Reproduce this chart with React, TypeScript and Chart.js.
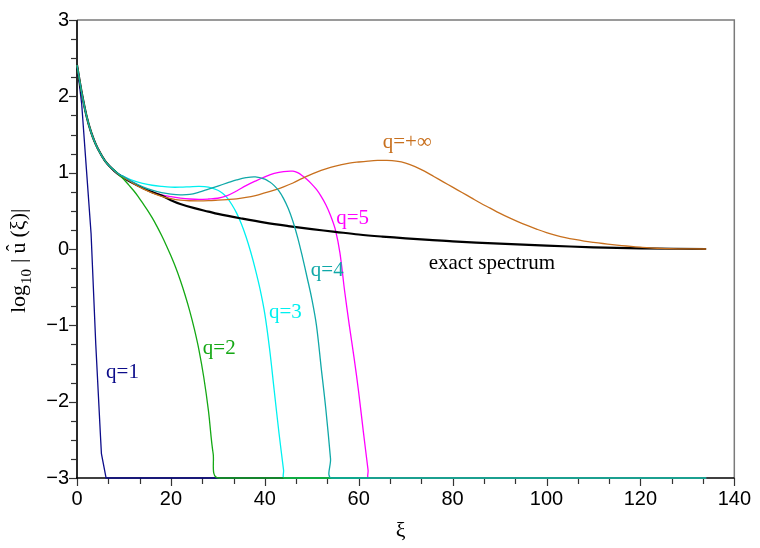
import React, { useEffect, useRef } from 'react';
import { Chart, registerables } from 'chart.js';

Chart.register(...registerables);

// ---------- data ----------
const exactXi = [0, 1, 2, 3, 4, 5, 6, 7, 8, 9, 10, 12, 14, 16, 18, 20, 22, 25, 28, 30, 35, 40, 45, 50, 55, 60, 65, 70, 75, 80, 90, 100, 110, 120, 134];
const exactLog = [2.41, 2.05, 1.75, 1.53, 1.37, 1.25, 1.15, 1.08, 1.02, 0.97, 0.93, 0.86, 0.8, 0.745, 0.7, 0.64, 0.59, 0.535, 0.49, 0.46, 0.4, 0.345, 0.3, 0.26, 0.225, 0.19, 0.163, 0.14, 0.12, 0.1, 0.07, 0.045, 0.022, 0.008, 0.0];

const q1Xi = [0, 1, 2, 3, 4, 5, 5.2, 6.2, 134];
const q1Log = [2.41, 1.9, 1.05, 0.2, -1.25, -2.45, -2.68, -3, -3];

const q2Xi = [0, 1, 2, 3, 4, 5, 6, 7, 8, 9, 10, 11, 12, 13, 14, 15, 16, 17, 18, 19, 20, 21, 22, 23, 24, 25, 26, 27, 28, 29, 30.2, 134];
const q2Log = [2.41, 2.05, 1.75, 1.53, 1.37, 1.25, 1.15, 1.08, 1.03, 0.97, 0.91, 0.84, 0.77, 0.69, 0.6, 0.51, 0.41, 0.3, 0.18, 0.05, -0.09, -0.24, -0.41, -0.6, -0.81, -1.05, -1.33, -1.68, -2.12, -2.68, -3, -3];

const q3Xi = [0, 1, 2, 3, 4, 5, 6, 7, 8, 9, 10, 12, 14, 16, 18, 20, 22, 24, 26, 28, 30, 31, 32, 33, 34, 35, 36, 37, 38, 39, 40, 41, 42, 43, 44, 44.2, 134];
const q3Log = [2.41, 2.05, 1.75, 1.53, 1.37, 1.25, 1.15, 1.08, 1.03, 0.98, 0.95, 0.895, 0.86, 0.835, 0.82, 0.81, 0.81, 0.815, 0.82, 0.81, 0.77, 0.73, 0.67, 0.58, 0.47, 0.33, 0.16, -0.04, -0.27, -0.53, -0.85, -1.3, -1.85, -2.4, -2.9, -3, -3];

const q4Xi = [0, 1, 2, 3, 4, 5, 6, 7, 8, 9, 10, 12, 14, 16, 18, 20, 22, 24, 26, 28, 30, 32, 34, 36, 38, 40, 41, 42, 43, 44, 45, 46, 47, 48, 49, 50, 51, 52, 53, 54, 54.3, 134];
const q4Log = [2.41, 2.05, 1.75, 1.53, 1.37, 1.25, 1.15, 1.08, 1.025, 0.975, 0.945, 0.875, 0.815, 0.77, 0.74, 0.72, 0.71, 0.715, 0.745, 0.785, 0.825, 0.865, 0.905, 0.935, 0.945, 0.915, 0.88, 0.83, 0.76, 0.66, 0.53, 0.36, 0.15, -0.1, -0.37, -0.65, -1.0, -1.55, -2.1, -2.75, -3, -3];

const q5Xi = [0, 1, 2, 3, 4, 5, 6, 7, 8, 9, 10, 12, 14, 16, 18, 20, 22, 24, 26, 28, 30, 32, 34, 36, 38, 40, 42, 44, 46, 47, 48, 49, 50, 51, 52, 53, 54, 55, 56, 57, 58, 59, 60, 61, 62, 62.2, 134];
const q5Log = [2.41, 2.05, 1.75, 1.53, 1.37, 1.25, 1.15, 1.08, 1.02, 0.975, 0.94, 0.87, 0.8, 0.75, 0.71, 0.685, 0.667, 0.655, 0.65, 0.655, 0.665, 0.7, 0.76, 0.83, 0.89, 0.945, 0.99, 1.015, 1.02, 1.0, 0.96, 0.91, 0.85, 0.78, 0.69, 0.58, 0.44, 0.26, -0.05, -0.55, -1.0, -1.42, -1.88, -2.4, -2.9, -3, -3];

const qInfXi = [0, 1, 2, 3, 4, 5, 6, 7, 8, 9, 10, 12, 14, 16, 18, 20, 22, 24, 26, 28, 30, 32, 34, 36, 38, 40, 42, 44, 46, 48, 50, 52, 54, 56, 58, 60, 62, 64, 66, 68, 70, 72, 74, 76, 78, 80, 82, 84, 86, 88, 90, 92, 94, 96, 98, 100, 102, 104, 106, 108, 110, 112, 114, 116, 118, 120, 122, 124, 126, 128, 134];
const qInfLog = [2.41, 2.05, 1.75, 1.53, 1.37, 1.25, 1.15, 1.08, 1.02, 0.97, 0.935, 0.86, 0.79, 0.735, 0.69, 0.66, 0.64, 0.632, 0.63, 0.633, 0.64, 0.648, 0.658, 0.675, 0.7, 0.735, 0.772, 0.815, 0.865, 0.925, 0.98, 1.03, 1.07, 1.1, 1.125, 1.14, 1.152, 1.16, 1.16, 1.15, 1.125, 1.08, 1.02, 0.95, 0.88, 0.81, 0.74, 0.67, 0.6, 0.535, 0.47, 0.41, 0.355, 0.305, 0.258, 0.215, 0.18, 0.15, 0.125, 0.104, 0.087, 0.072, 0.058, 0.045, 0.034, 0.024, 0.015, 0.009, 0.004, 0.002, 0.0];

const xTickValues = [0, 20, 40, 60, 80, 100, 120, 140];
const yTickValues = [-3, -2, -1, 0, 1, 2, 3];

const seriesColors = {
  q1: '#0c0c8a',
  q2: '#14a814',
  q3: '#00f0f0',
  q4: '#10a8a8',
  q5: '#ff00ff',
  qInf: '#c8701e',
  exact: '#000000',
};

const curveLabels = [
  { text: 'q=1', xi: 6.2, y: -1.69, color: seriesColors.q1 },
  { text: 'q=2', xi: 26.8, y: -1.38, color: seriesColors.q2 },
  { text: 'q=3', xi: 40.9, y: -0.91, color: seriesColors.q3 },
  { text: 'q=4', xi: 49.8, y: -0.35, color: seriesColors.q4 },
  { text: 'q=5', xi: 55.2, y: 0.33, color: seriesColors.q5 },
  { text: 'q=+\u221E', xi: 65.1, y: 1.32, color: seriesColors.qInf },
  { text: 'exact spectrum', xi: 74.9, y: -0.26, color: '#000000' },
];

const toPoints = (xs: number[], ys: number[]) => xs.map((x, i) => ({ x, y: ys[i] }));

const SERIF = '"Liberation Serif", "DejaVu Serif", serif';
const SANS = '"Liberation Sans", Arial, sans-serif';

const framePlugin = {
  id: 'framePlugin',
  beforeDatasetsDraw(chart: any) {
    const { ctx, chartArea } = chart;
    const { left, right, top, bottom } = chartArea;
    const xs = chart.scales.x;
    const ys = chart.scales.y;
    ctx.save();
    ctx.strokeStyle = '#7a7a7a';
    ctx.lineWidth = 1.5;
    ctx.beginPath();
    ctx.moveTo(left, top);
    ctx.lineTo(right, top);
    ctx.lineTo(right, bottom);
    ctx.stroke();
    ctx.strokeStyle = '#333';
    ctx.lineWidth = 1.2;
    const xMinor = 20 / 3;
    for (let i = 0; i <= 21; i++) {
      const v = i * xMinor;
      const px = Math.round(xs.getPixelForValue(v)) + 0.5;
      const len = i % 3 === 0 ? 8 : 6;
      ctx.beginPath();
      ctx.moveTo(px, bottom);
      ctx.lineTo(px, bottom + len);
      ctx.stroke();
    }
    for (let i = 0; i <= 24; i++) {
      const v = -3 + i * 0.25;
      const py = Math.round(ys.getPixelForValue(v)) + 0.5;
      const len = i % 4 === 0 ? 8 : 6;
      ctx.beginPath();
      ctx.moveTo(left, py);
      ctx.lineTo(left - len, py);
      ctx.stroke();
    }
    ctx.strokeStyle = '#2a2a2a';
    ctx.lineWidth = 2;
    ctx.beginPath();
    ctx.moveTo(left, top);
    ctx.lineTo(left, bottom);
    ctx.stroke();
    ctx.strokeStyle = '#000';
    ctx.lineWidth = 1.6;
    ctx.beginPath();
    ctx.moveTo(left - 1, bottom);
    ctx.lineTo(right, bottom);
    ctx.stroke();
    ctx.restore();
  },
  afterDraw(chart: any) {
    const { ctx, chartArea } = chart;
    const xs = chart.scales.x;
    const ys = chart.scales.y;
    ctx.save();
    ctx.textBaseline = 'alphabetic';
    ctx.textAlign = 'left';
    ctx.font = `21px ${SERIF}`;
    for (const l of curveLabels) {
      ctx.fillStyle = l.color;
      ctx.fillText(l.text, xs.getPixelForValue(l.xi), ys.getPixelForValue(l.y));
    }
    ctx.fillStyle = '#000';
    ctx.font = `22px ${SERIF}`;
    ctx.textAlign = 'center';
    ctx.fillText('\u03BE', (chartArea.left + chartArea.right) / 2 - 5, 537);
    // y title (rotated)
    ctx.translate(25, 313);
    ctx.rotate(-Math.PI / 2);
    ctx.textAlign = 'left';
    let cx = 0;
    ctx.font = `22px ${SERIF}`;
    ctx.fillText('log', cx, 0);
    cx += ctx.measureText('log').width + 1;
    ctx.font = `15px ${SERIF}`;
    ctx.fillText('10', cx, 6);
    cx += ctx.measureText('10').width + 6;
    ctx.font = `22px ${SERIF}`;
    ctx.fillText('|', cx, 0);
    cx += ctx.measureText('|').width + 5;
    const uw = ctx.measureText('u').width;
    ctx.fillText('u', cx, 0);
    ctx.font = `20px ${SERIF}`;
    const hw = ctx.measureText('\u02C6').width;
    ctx.fillText('\u02C6', cx + (uw - hw) / 2, -4);
    ctx.font = `22px ${SERIF}`;
    cx += uw + 5;
    ctx.fillText('(\u03BE)|', cx, 0);
    ctx.restore();
  },
};

export default function App() {
  const canvasRef = useRef<HTMLCanvasElement | null>(null);

  useEffect(() => {
    const canvas = canvasRef.current;
    if (!canvas) return;
    const mk = (label: string, xs: number[], ys: number[], color: string, width: number, order: number, tension: number) => ({
      label,
      data: toPoints(xs, ys),
      borderColor: color,
      backgroundColor: color,
      borderWidth: width,
      pointRadius: 0,
      fill: false,
      order,
      tension,
      clip: 4,
    });
    const chart = new Chart(canvas, {
      type: 'line',
      data: {
        datasets: [
          mk('q=4', q4Xi, q4Log, seriesColors.q4, 1.3, 1, 0.35),
          mk('q=2', q2Xi, q2Log, seriesColors.q2, 1.3, 2, 0.35),
          mk('q=+inf', qInfXi, qInfLog, seriesColors.qInf, 1.3, 3, 0.35),
          mk('exact', exactXi, exactLog, seriesColors.exact, 2.2, 4, 0.35),
          mk('q=5', q5Xi, q5Log, seriesColors.q5, 1.3, 5, 0.35),
          mk('q=3', q3Xi, q3Log, seriesColors.q3, 1.3, 6, 0.35),
          mk('q=1', q1Xi, q1Log, seriesColors.q1, 1.3, 7, 0),
        ] as any,
      },
      options: {
        animation: false,
        responsive: false,
        maintainAspectRatio: false,
        devicePixelRatio: 1,
        layout: { padding: { left: 0, right: 23, top: 12, bottom: 0 } },
        plugins: { legend: { display: false }, tooltip: { enabled: false } },
        scales: {
          x: {
            type: 'linear',
            min: 0,
            max: 140,
            afterFit: (s: any) => { s.height = 70; },
            afterBuildTicks: (s: any) => { s.ticks = xTickValues.map((v) => ({ value: v })); },
            grid: { display: false, drawTicks: false },
            border: { display: false },
            ticks: {
              padding: 9,
              color: '#000',
              maxRotation: 0,
              autoSkip: false,
              font: { family: SANS, size: 20 },
            },
          },
          y: {
            type: 'linear',
            min: -3,
            max: 3,
            afterFit: (s: any) => { s.width = 77; },
            afterBuildTicks: (s: any) => { s.ticks = yTickValues.map((v) => ({ value: v })); },
            grid: { display: false, drawTicks: false },
            border: { display: false },
            ticks: {
              padding: 8,
              color: '#000',
              autoSkip: false,
              font: { family: SANS, size: 20 },
              callback: (v: any) => String(v).replace('-', '\u2212'),
            },
          },
        },
      } as any,
      plugins: [framePlugin],
    });
    return () => chart.destroy();
  }, []);

  return (
    <div style={{ position: 'fixed', left: 0, top: 0, width: 760, height: 548, background: '#fff' }}>
      <canvas ref={canvasRef} width={760} height={548} style={{ display: 'block', width: 760, height: 548 }} />
    </div>
  );
}
